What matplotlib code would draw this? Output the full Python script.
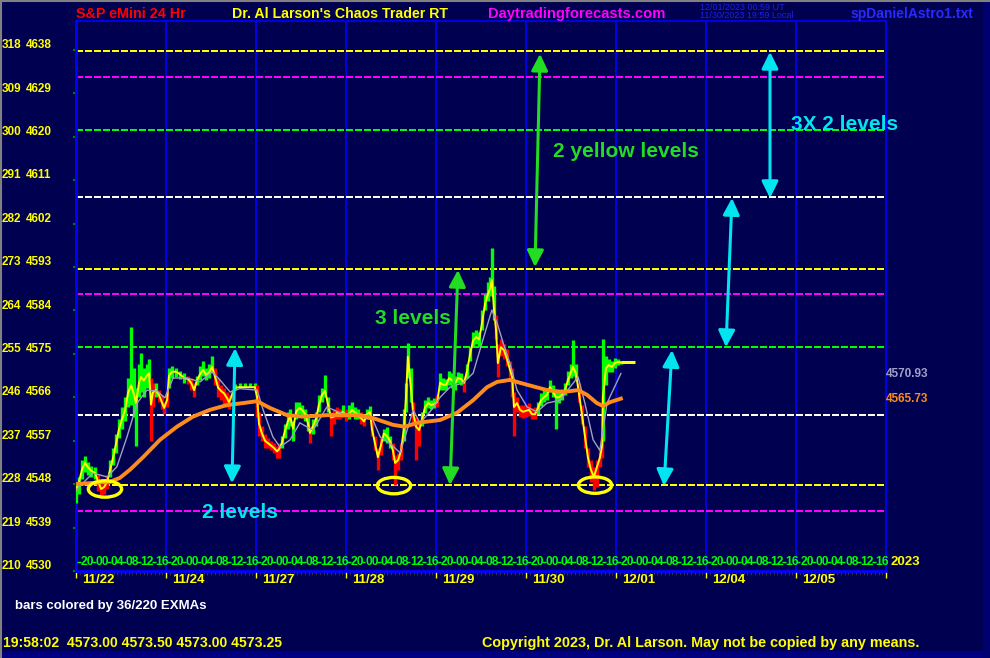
import numpy as np
import matplotlib
matplotlib.use('Agg')
import matplotlib.pyplot as plt
from matplotlib.patches import Ellipse, FancyArrowPatch, Rectangle
from matplotlib.lines import Line2D
import matplotlib.transforms as mtrans

# ---------------- data ----------------
bar_hours = [0, 0.8, 1.6, 2.4, 3.2, 4.0, 5.1, 5.9, 6.7, 7.5, 8.3, 9.1, 9.9, 10.7, 11.5, 12.3, 13.1, 13.9,
             14.7, 15.5, 16.0, 16.8, 17.3, 18.1, 18.9, 19.5, 20.0, 20.5, 21.3, 22.1, 22.9, 23.5,
             24.3, 24.8, 25.6, 26.7, 27.7, 28.8, 29.9, 30.7, 31.5, 32.3, 33.1, 33.9, 34.7, 35.5, 36.3,
             37.1, 37.9, 38.7, 39.5, 40.3, 40.8, 41.6, 42.4, 43.7, 45.1, 46.4, 47.7,
             48.3, 48.8, 49.6, 50.4, 51.2, 52.0, 52.8, 53.6, 54.1, 54.9, 55.7, 56.5, 57.1, 57.9, 58.7,
             59.5, 60.3, 61.1, 61.9, 62.4, 63.2, 64.0, 64.8, 65.6, 66.4, 67.2, 68.0, 68.8, 69.6, 70.4,
             71.2, 72.0,
             72.8, 73.6, 74.4, 75.2, 76.0, 76.8, 77.6, 78.4, 78.9, 79.7, 80.5, 81.3, 82.1, 82.9, 83.7,
             84.5, 85.1, 85.9, 86.7, 87.5, 88.0, 88.5, 89.3, 89.9, 90.7, 91.5, 92.3, 93.1, 93.9, 94.7,
             95.5,
             96.3, 97.1, 97.9, 98.7, 99.5, 100.3, 101.1, 101.9, 102.7, 103.5, 104.3, 105.1, 105.9,
             106.7, 107.5, 108.3, 109.1, 109.9, 110.4, 110.9, 111.5, 112.0, 112.5, 113.3, 114.1,
             114.9, 115.7, 116.3, 116.8, 117.6, 118.4, 119.2, 120.0,
             120.8, 121.6, 122.4, 123.2, 124.0, 124.8, 125.6, 126.4, 127.2, 128.0, 128.8, 129.6,
             130.4, 131.2, 132.0, 132.5, 133.3, 134.1, 134.9, 135.7, 136.5, 137.3, 138.1, 138.9,
             139.7, 140.3, 140.5, 141.3, 142.1, 142.9, 143.7, 144.5, 145.3]
bar_close = [4546.8, 4548.5, 4551.0, 4552.4, 4551.5, 4550.8, 4550.3, 4548.5, 4547.0, 4547.4, 4548.5,
             4551.0, 4553.5, 4556.5, 4559.5, 4561.5, 4563.4, 4567.0, 4568.5, 4566.5, 4564.8, 4569.0,
             4570.2, 4569.5, 4570.5, 4571.0, 4564.5, 4567.0, 4567.5, 4566.5, 4565.0, 4563.8,
             4565.5, 4570.5, 4571.3, 4571.3, 4570.8, 4570.0, 4569.8, 4569.0, 4567.5, 4569.6, 4570.8,
             4571.7, 4570.6, 4571.2, 4572.3, 4570.2, 4568.0, 4567.3, 4566.8, 4565.8, 4565.0, 4566.5,
             4568.0, 4568.1, 4568.1, 4568.1, 4568.1,
             4566.0, 4560.5, 4558.5, 4557.0, 4556.5, 4556.0, 4555.5, 4554.8, 4555.2, 4556.5, 4559.0,
             4561.0, 4562.0, 4559.5, 4563.0, 4563.8, 4563.4, 4562.5, 4560.5, 4558.6, 4560.0, 4561.5,
             4564.5, 4566.5, 4567.3, 4564.5, 4561.8, 4562.0, 4562.8, 4562.5, 4563.0, 4562.3,
             4562.5, 4563.4, 4562.8, 4562.5, 4561.7, 4561.0, 4562.5, 4563.0, 4559.5, 4556.5, 4553.6,
             4556.0, 4558.5, 4558.0, 4557.0, 4555.0, 4552.4, 4553.0, 4555.0, 4560.0, 4566.0, 4574.4,
             4568.1, 4562.8, 4559.9, 4559.2, 4561.5, 4564.0, 4564.8, 4564.4, 4564.6,
             4565.0, 4569.0, 4568.6, 4568.6, 4570.0, 4569.5, 4569.0, 4570.0, 4569.8, 4569.0, 4571.5,
             4575.0, 4577.8, 4578.5, 4578.0, 4581.5, 4585.5, 4587.5, 4588.5, 4590.3, 4584.1, 4580.0,
             4573.1, 4576.4, 4575.8, 4574.0, 4571.8, 4570.2, 4564.0, 4564.8, 4563.4, 4563.0, 4563.2,
             4563.4, 4562.5, 4562.5, 4563.8, 4565.4, 4566.0, 4566.5, 4568.1, 4567.2, 4566.0, 4566.0,
             4566.5, 4567.5, 4569.6, 4571.2, 4572.3, 4571.0, 4567.0, 4562.5, 4558.0, 4553.6, 4551.0,
             4549.5, 4551.5, 4553.5, 4556.0, 4566.0, 4572.0, 4572.7, 4572.3, 4573.1, 4573.3, 4573.25]
bar_high = [4548.5, 4549.5, 4553.0, 4553.8, 4552.5, 4551.8, 4551.5, 4550.0, 4548.0, 4548.5, 4550.0,
            4553.0, 4555.5, 4558.5, 4561.5, 4564.0, 4566.0, 4570.0, 4580.6, 4572.0, 4568.0, 4573.0,
            4575.2, 4572.0, 4573.0, 4574.0, 4570.0, 4569.0, 4569.0, 4567.5, 4566.5, 4565.0,
            4567.0, 4572.0, 4572.5, 4572.0, 4571.5, 4571.0, 4570.5, 4570.0, 4569.0, 4570.5, 4572.5,
            4573.5, 4572.0, 4573.0, 4574.5, 4572.0, 4570.0, 4568.5, 4568.0, 4567.0, 4566.5, 4567.5,
            4568.8, 4568.9, 4568.9, 4568.9, 4568.9,
            4568.5, 4563.0, 4560.0, 4558.5, 4557.5, 4557.0, 4556.5, 4556.0, 4556.5, 4558.0, 4560.5,
            4563.0, 4563.5, 4561.0, 4565.0, 4565.0, 4564.5, 4563.5, 4562.0, 4560.0, 4561.5, 4563.0,
            4566.5, 4568.0, 4570.6, 4566.0, 4563.0, 4563.5, 4564.0, 4563.5, 4564.5, 4563.5,
            4564.5, 4565.0, 4564.0, 4563.5, 4563.0, 4562.0, 4563.5, 4564.2, 4562.0, 4558.0, 4555.5,
            4557.5, 4559.5, 4559.8, 4558.0, 4556.5, 4554.0, 4554.5, 4556.5, 4563.5, 4569.0, 4577.3,
            4572.0, 4565.0, 4562.0, 4561.0, 4563.0, 4565.5, 4566.0, 4565.5, 4565.8,
            4566.5, 4571.0, 4570.0, 4569.8, 4571.5, 4571.0, 4570.5, 4571.2, 4571.0, 4570.5, 4573.0,
            4576.5, 4579.5, 4580.0, 4579.5, 4584.0, 4587.5, 4590.0, 4591.0, 4597.0, 4589.0, 4583.0,
            4577.0, 4578.0, 4577.0, 4576.0, 4573.5, 4572.0, 4567.0, 4566.0, 4564.5, 4564.5, 4564.5,
            4564.8, 4563.8, 4564.0, 4565.0, 4566.8, 4567.5, 4568.0, 4569.5, 4568.5, 4567.5, 4567.5,
            4567.8, 4569.0, 4571.5, 4573.0, 4577.9, 4573.0, 4569.0, 4564.5, 4560.0, 4555.5, 4553.0,
            4551.5, 4553.0, 4555.0, 4558.0, 4578.0, 4574.5, 4574.0, 4573.5, 4574.2, 4574.0, 4573.5]
bar_low = [4544.0, 4546.0, 4549.0, 4550.5, 4550.0, 4549.5, 4549.0, 4546.5, 4545.5, 4546.0, 4547.0,
           4549.5, 4552.0, 4554.5, 4557.5, 4559.5, 4561.0, 4564.0, 4564.5, 4562.0, 4556.0, 4566.0,
           4567.0, 4566.0, 4568.0, 4568.5, 4557.0, 4564.0, 4566.0, 4565.0, 4563.5, 4562.5,
           4564.0, 4568.0, 4570.0, 4570.3, 4569.8, 4569.0, 4568.8, 4567.5, 4566.0, 4568.5, 4569.5,
           4570.5, 4569.5, 4570.0, 4571.0, 4568.5, 4566.0, 4565.5, 4564.5, 4564.0, 4563.5, 4565.5,
           4567.5, 4568.1, 4568.1, 4568.1, 4568.1,
           4562.0, 4558.0, 4557.0, 4555.5, 4555.5, 4555.0, 4554.5, 4553.5, 4553.5, 4555.5, 4557.5,
           4559.5, 4560.0, 4557.0, 4561.5, 4562.5, 4562.0, 4561.0, 4559.0, 4556.5, 4558.5, 4560.0,
           4563.0, 4565.0, 4566.0, 4563.0, 4558.0, 4560.5, 4561.5, 4561.5, 4562.0, 4561.0,
           4561.5, 4562.5, 4561.5, 4561.5, 4560.5, 4560.0, 4561.5, 4561.8, 4558.0, 4555.0, 4551.0,
           4554.0, 4557.0, 4556.5, 4555.5, 4553.0, 4547.8, 4551.0, 4553.0, 4557.0, 4563.0, 4570.0,
           4565.0, 4560.0, 4553.0, 4556.0, 4560.0, 4562.8, 4563.8, 4563.5, 4563.8,
           4564.0, 4567.5, 4567.5, 4567.5, 4568.5, 4568.0, 4567.5, 4569.0, 4568.5, 4567.0, 4570.0,
           4573.5, 4576.5, 4577.0, 4576.5, 4580.0, 4584.0, 4586.0, 4587.0, 4588.0, 4582.0, 4578.0,
           4570.2, 4574.5, 4574.0, 4572.5, 4570.0, 4566.0, 4558.0, 4563.0, 4562.0, 4561.8, 4562.0,
           4562.2, 4561.5, 4561.5, 4562.5, 4564.2, 4565.0, 4565.5, 4567.0, 4566.0, 4559.5, 4564.8,
           4565.5, 4566.5, 4568.5, 4570.0, 4570.5, 4569.5, 4565.0, 4560.5, 4555.5, 4551.5, 4548.5,
           4546.8, 4547.5, 4551.5, 4553.5, 4557.0, 4568.5, 4571.3, 4571.3, 4572.0, 4572.8, 4573.0]

fast_hours = [0, 4.5, 8.3, 10.9, 13.6, 16.3, 18.9, 21.6, 23.7, 25.9, 29.6, 33.1, 36.3, 38.4, 41.1,
              43.7, 48.3, 49.9, 52.5, 54.4, 57.1, 59.7, 63.2, 66.9, 70.4, 75.7, 79.2, 81.1, 83.7,
              86.4, 88.3, 89.9, 91.7, 94.4, 97.1, 99.7, 103.2, 105.9, 108.5, 110.9, 112.3, 113.9,
              115.7, 117.6, 120.3, 122.9, 125.6, 129.1, 131.7, 133.9, 135.7, 137.9, 139.7, 141.6,
              145.3]
fast_ema = [4546.8, 4550.3, 4549.5, 4551.6, 4557.8, 4564.8, 4567.5, 4567.3, 4565.9, 4570.0, 4570.0,
            4569.2, 4571.3, 4569.6, 4567.1, 4567.8, 4567.5, 4563.4, 4557.8, 4555.7, 4557.2, 4560.7,
            4559.2, 4564.0, 4562.8, 4562.0, 4561.3, 4557.8, 4556.5, 4554.5, 4559.2, 4563.4, 4560.7,
            4563.0, 4566.0, 4568.1, 4569.0, 4571.0, 4577.9, 4584.1, 4581.4, 4577.3, 4573.1, 4567.5,
            4564.0, 4563.0, 4564.8, 4565.4, 4568.1, 4570.2, 4564.8, 4557.2, 4555.0, 4564.8, 4570.93]

slow_hours = [0, 9.1, 11.7, 14.4, 17.9, 22.4, 26.9, 31.2, 35.7, 40.3, 44.5, 48.3, 51.7, 56.3, 60.5,
              66.9, 75.7, 79.2, 84.5, 87.7, 90.9, 97.1, 101.6, 105.9, 109.6, 112.3, 115.7, 120.3,
              125.6, 129.9, 133.9, 136.3, 138.9, 140.5, 142.4, 145.3]
slow_ema = [4548.0, 4548.5, 4549.3, 4551.0, 4553.6, 4557.2, 4559.9, 4562.0, 4563.4, 4564.4, 4564.8,
            4565.2, 4563.8, 4562.3, 4562.0, 4562.3, 4562.3, 4561.7, 4560.3, 4559.9, 4560.7, 4561.3,
            4562.8, 4565.4, 4568.1, 4569.2, 4569.6, 4568.6, 4567.5, 4567.1, 4567.5, 4566.5, 4564.8,
            4564.2, 4565.0, 4565.73]

last_price = 4573.25
day_labels = ['11/22', '11/24', '11/27', '11/28', '11/29', '11/30', '12/01', '12/04', '12/05']
hour_labels = ['20', '00', '04', '08', '12', '16']
ytick_prices = [4530, 4539, 4548, 4557, 4566, 4575, 4584, 4593, 4602, 4611, 4620, 4629, 4638]
ytick_alt = [210, 219, 228, 237, 246, 255, 264, 273, 282, 291, 300, 309, 318]
level_prices = [4542.4, 4547.8, 4562.3, 4576.4, 4587.4, 4592.7, 4607.5, 4621.4, 4632.3, 4637.7]
level_colors = ['#ff00ff', '#ffff00', '#ffffff', '#00ff00', '#ff00ff', '#ffff00', '#ffffff',
                '#00ff00', '#ff00ff', '#ffff00']

# ---------------- style ----------------
BG = '#000050'
LINEBLUE = '#0000ff'
SANS = ['Liberation Sans', 'DejaVu Sans']
plt.rcParams['font.family'] = SANS

W, H = 990, 658
fig = plt.figure(figsize=(W / 100, H / 100), dpi=100, facecolor=BG)
L, R, T, B = 76, 886, 21, 571
ax = fig.add_axes([L / W, (H - B) / H, (R - L) / W, (B - T) / H])
ax.set_facecolor(BG)

ndays = len(day_labels)
ax.set_xlim(0, ndays)
ax.set_ylim(4530, 4644)

t = np.array(bar_hours) / 24.0
close = np.array(bar_close)
hi = np.array(bar_high)
lo = np.array(bar_low)
fast_t = np.array(fast_hours) / 24.0
slow_t = np.array(slow_hours) / 24.0

# day separators
for k in range(1, ndays):
    ax.axvline(k, color=LINEBLUE, lw=1.2, zorder=1)

# level dashed lines
for p, c in zip(level_prices, level_colors):
    ax.axhline(p, color=c, lw=1.4, ls=(0, (3.5, 1.5)), zorder=2, antialiased=False)

# bars coloured by fast EMA
fast_at_bar = np.interp(t, fast_t, np.array(fast_ema))
cols = np.where(close >= fast_at_bar, '#00ff00', '#ff0000')
ax.vlines(t, lo, hi, colors=cols, lw=2.4, zorder=3)
ax.plot(t, close, color='#ffff00', lw=1.4, zorder=4)
ax.hlines(last_price, t[-1], t[-1] + 3.8 / 24, color='#ffff00', lw=2.2, zorder=4)
ax.plot(fast_t, fast_ema, color='#a0a0c0', lw=1.0, zorder=5)
ax.plot(slow_t, slow_ema, color='#ff8c1a', lw=2.8, zorder=6)

# spines
for s in ['top', 'right']:
    ax.spines[s].set_color(LINEBLUE)
    ax.spines[s].set_linewidth(1.2)
for s in ['left', 'bottom']:
    ax.spines[s].set_color(LINEBLUE)
    ax.spines[s].set_linewidth(2.0)

# ticks
ax.set_yticks(ytick_prices)
ax.set_yticklabels([])
ax.tick_params(axis='y', which='major', direction='out', length=2.5, width=1.5, color='#008000')
ax.set_xticks(range(ndays + 1))
ax.set_xticks(np.arange(0, ndays, 1 / 24), minor=True)
ax.set_xticklabels([])
ax.tick_params(axis='x', which='major', direction='out', length=5, width=1, color='#ffff00')
ax.tick_params(axis='x', which='minor', direction='out', length=3, width=0.8, color='#303030')

# hour labels inside the frame
bt = mtrans.blended_transform_factory(ax.transData, ax.transAxes)
for k in range(ndays):
    for j, hl in enumerate(hour_labels):
        xc = k + (11 + 15 * j) / 90
        ax.text(xc, 0.0165, hl, transform=bt, color='#00ff00', fontsize=8.7,
                fontweight='bold', ha='center', va='center', zorder=7)
        ax.hlines(4531.9, xc - 10 / 90, xc - 6.5 / 90, color='#00ff00', lw=1.0, zorder=7)
    ax.text(k + 6 / 90, -0.0165, day_labels[k], transform=bt, color='#ffff00', fontsize=9.5,
            fontweight='bold', ha='left', va='center', clip_on=False)
ax.text(1.005, 0.0165, '2023', transform=ax.transAxes, color='#ffff00', fontsize=9.5,
        fontweight='bold', ha='left', va='center', clip_on=False)

# left price labels
lt = mtrans.blended_transform_factory(fig.transFigure, ax.transData)
for p, a in zip(ytick_prices, ytick_alt):
    ax.text(2 / W, p + 1.0, str(a), transform=lt, color='#ffff00', fontsize=8.5,
            fontweight='bold', ha='left', va='center', clip_on=False)
    ax.text(26 / W, p + 1.0, str(p), transform=lt, color='#ffff00', fontsize=8.5,
            fontweight='bold', ha='left', va='center', clip_on=False)

# right value labels
rt = mtrans.blended_transform_factory(ax.transAxes, ax.transData)
ax.text(1.0, fast_ema[-1], f'{fast_ema[-1]:.2f}', transform=rt,
        color='#a0a0c8', fontsize=8.5, fontweight='bold', ha='left', va='center',
        clip_on=False)
ax.text(1.0, slow_ema[-1], f'{slow_ema[-1]:.2f}', transform=rt,
        color='#ff8c1a', fontsize=8.5, fontweight='bold', ha='left', va='center',
        clip_on=False)

# annotations: ellipses
for (ex, ey) in [(0.322, 4547.0), (3.533, 4547.7), (5.767, 4547.8)]:
    ax.add_patch(Ellipse((ex, ey), 0.37, 3.4, fill=False, ec='#ffff00', lw=2.4, zorder=8))

CYAN = '#00e5f0'
GREEN = '#22dd22'
arrows = [((1.733, 4548.2), (1.767, 4576.2), CYAN),
          ((4.156, 4547.8), (4.244, 4592.4), GREEN),
          ((5.100, 4593.0), (5.156, 4637.2), GREEN),
          ((7.711, 4607.3), (7.711, 4637.6), CYAN),
          ((7.222, 4576.4), (7.289, 4607.3), CYAN),
          ((6.533, 4547.6), (6.622, 4575.8), CYAN)]
for a, b, c in arrows:
    ax.add_patch(FancyArrowPatch(a, b, arrowstyle='<|-|>,head_length=10,head_width=5',
                                 mutation_scale=1, lw=2.2, color=c, shrinkA=0, shrinkB=0,
                                 zorder=9))

ax.text(1.822, 4542.2, '2 levels', color=CYAN, fontsize=15, fontweight='bold',
        ha='center', va='center', zorder=9)
ax.text(3.744, 4582.4, '3 levels', color=GREEN, fontsize=15, fontweight='bold',
        ha='center', va='center', zorder=9)
ax.text(6.111, 4616.9, '2 yellow levels', color=GREEN, fontsize=15, fontweight='bold',
        ha='center', va='center', zorder=9)
ax.text(8.544, 4622.5, '3X 2 levels', color=CYAN, fontsize=15, fontweight='bold',
        ha='center', va='center', zorder=9, clip_on=False)

# header texts
def ftext(x, y, s, **kw):
    fig.text(x / W, 1 - y / H, s, **kw)

ftext(76, 14, 'S&P eMini 24 Hr', color='#ff0000', fontsize=10.3, fontweight='bold', va='center')
ftext(232, 14, "Dr. Al Larson's Chaos Trader RT", color='#ffff00', fontsize=10.2,
      fontweight='bold', va='center')
ftext(488, 14, 'Daytradingforecasts.com', color='#ff00ff', fontsize=10.6, fontweight='bold',
      va='center')
ftext(700, 7, '12/01/2023 00:59 UT', color='#2020e0', fontsize=6.5, va='center')
ftext(700, 16, '11/30/2023 19:59 Local', color='#2020e0', fontsize=6.5, va='center')
ftext(851, 14, 'spDanielAstro1.txt', color='#2a2aff', fontsize=10, fontweight='bold',
      va='center')

# footer texts
ftext(15, 606, 'bars colored by 36/220 EXMAs', color='#ffffff', fontsize=9.5,
      fontweight='bold', va='center')
ftext(3, 643, '19:58:02  4573.00 4573.50 4573.00 4573.25', color='#ffff00', fontsize=10.1,
      fontweight='bold', va='center')
ftext(482, 643, 'Copyright 2023, Dr. Al Larson. May not be copied by any means.',
      color='#ffff00', fontsize=10.35, fontweight='bold', va='center')

# frame decorations
fig.patches.append(Rectangle((0, 0), 1, 7 / H, transform=fig.transFigure, color='#000080',
                             zorder=-1))
fig.patches.append(Rectangle((983 / W, 0), 7 / W, 1, transform=fig.transFigure,
                             color='#00006e', zorder=-1))
fig.add_artist(Line2D([0, 1], [1 - 0.5 / H, 1 - 0.5 / H], transform=fig.transFigure,
                      color='#808080', lw=1.5))
fig.add_artist(Line2D([0.5 / W, 0.5 / W], [0, 1], transform=fig.transFigure,
                      color='#808080', lw=1.5))

fig.savefig('out.png', dpi=100, facecolor=BG)
